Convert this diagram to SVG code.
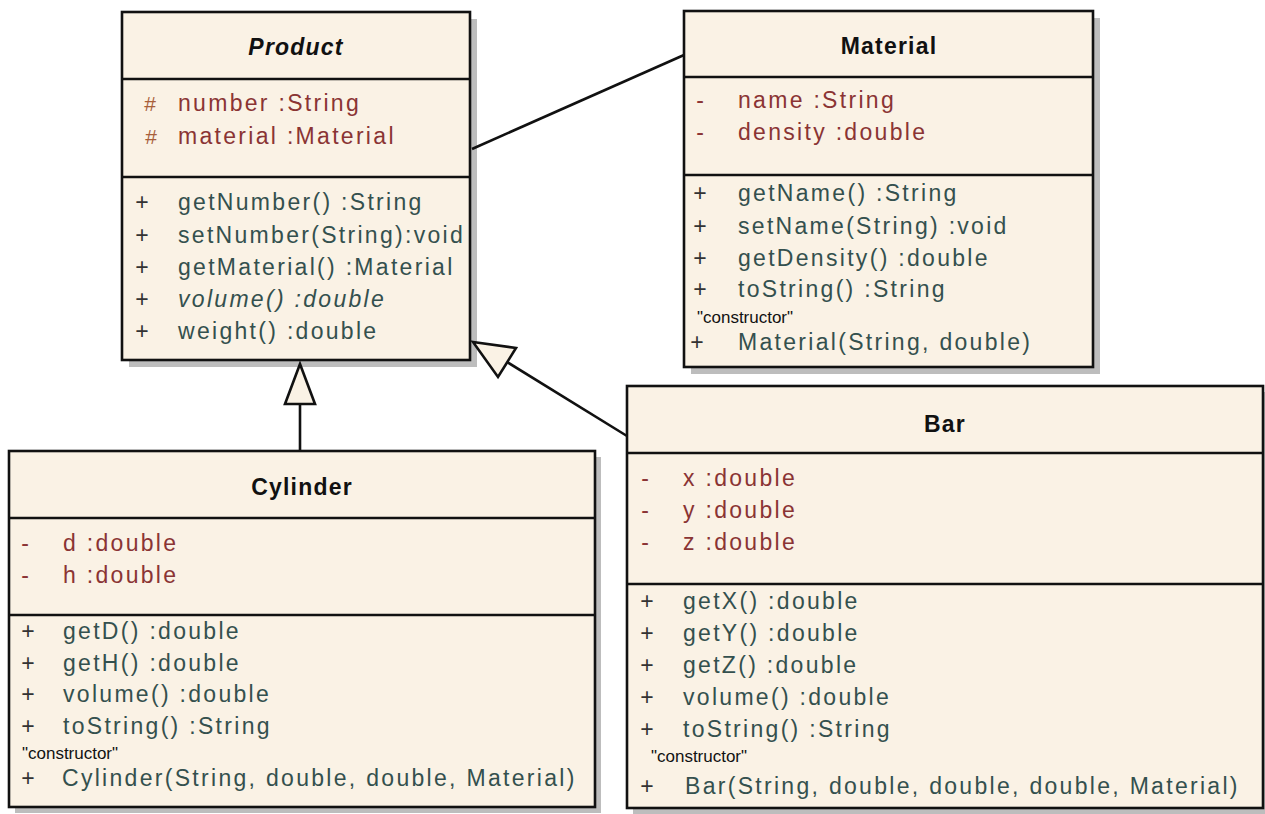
<svg xmlns="http://www.w3.org/2000/svg" width="1265" height="814" viewBox="0 0 1265 814">
<style>
.bg{fill:#ffffff}
.shadow{fill:#bdbdbd}
.box{fill:#faf2e5;stroke:#111;stroke-width:2.6}
.dv{stroke:#111;stroke-width:2.6}
text{font-family:"Liberation Sans",Arial,sans-serif;font-size:23px}
.title{font-weight:bold;fill:#111;text-anchor:middle;letter-spacing:1.2px}
.attr{fill:#8a3434;letter-spacing:2.3px}
.op{fill:#34504e;letter-spacing:2.3px}
.mk{text-anchor:middle;fill:#333}
.mkr{text-anchor:middle;fill:#8a3434}
.hash{text-anchor:middle;fill:#a8603a;font-size:21px}
.ctor{font-size:16px;fill:#111}
.con{stroke:#111;stroke-width:2.6;fill:none}
.tri{fill:#faf2e5;stroke:#111;stroke-width:2.6;stroke-linejoin:miter}
</style>
<rect class="bg" x="0" y="0" width="1265" height="814"/>

<g id="product">
<rect class="shadow" x="129" y="19" width="348" height="348"/>
<rect class="box" x="122" y="12" width="348" height="348"/>
<line class="dv" x1="122" y1="79" x2="470" y2="79"/>
<line class="dv" x1="122" y1="177" x2="470" y2="177"/>
<text class="title" x="296" y="55" font-style="italic">Product</text>
<text class="hash" x="150" y="111">#</text>
<text class="attr" x="178" y="111">number :String</text>
<text class="hash" x="151" y="144">#</text>
<text class="attr" x="178" y="144">material :Material</text>
<text class="mk" x="142" y="210">+</text>
<text class="op" x="178" y="210">getNumber() :String</text>
<text class="mk" x="142" y="243">+</text>
<text class="op" x="178" y="243">setNumber(String):void</text>
<text class="mk" x="142" y="275">+</text>
<text class="op" x="178" y="275">getMaterial() :Material</text>
<text class="mk" x="142" y="307">+</text>
<text class="op" x="178" y="307" font-style="italic">volume() :double</text>
<text class="mk" x="142" y="339">+</text>
<text class="op" x="178" y="339">weight() :double</text>
</g>

<g id="material">
<rect class="shadow" x="691" y="18" width="409" height="356"/>
<rect class="box" x="684" y="11" width="409" height="356"/>
<line class="dv" x1="684" y1="77" x2="1093" y2="77"/>
<line class="dv" x1="684" y1="175" x2="1093" y2="175"/>
<text class="title" x="889" y="54">Material</text>
<text class="mkr" x="700" y="108">-</text>
<text class="attr" x="738" y="108">name :String</text>
<text class="mkr" x="700" y="140">-</text>
<text class="attr" x="738" y="140">density :double</text>
<text class="mk" x="700" y="201">+</text>
<text class="op" x="738" y="201">getName() :String</text>
<text class="mk" x="700" y="234">+</text>
<text class="op" x="738" y="234">setName(String) :void</text>
<text class="mk" x="700" y="266">+</text>
<text class="op" x="738" y="266">getDensity() :double</text>
<text class="mk" x="700" y="297">+</text>
<text class="op" x="738" y="297">toString() :String</text>
<text class="ctor" x="697" y="323" textLength="96" lengthAdjust="spacingAndGlyphs">"constructor"</text>
<text class="mk" x="697" y="350">+</text>
<text class="op" x="738" y="350">Material(String, double)</text>
</g>

<g id="cylinder">
<rect class="shadow" x="15" y="457" width="586" height="356"/>
<rect class="box" x="9" y="451" width="586" height="356"/>
<line class="dv" x1="9" y1="518" x2="595" y2="518"/>
<line class="dv" x1="9" y1="615" x2="595" y2="615"/>
<text class="title" x="302" y="495">Cylinder</text>
<text class="mkr" x="25" y="551">-</text>
<text class="attr" x="63" y="551">d :double</text>
<text class="mkr" x="25" y="583">-</text>
<text class="attr" x="63" y="583">h :double</text>
<text class="mk" x="28" y="639">+</text>
<text class="op" x="63" y="639">getD() :double</text>
<text class="mk" x="28" y="671">+</text>
<text class="op" x="63" y="671">getH() :double</text>
<text class="mk" x="28" y="702">+</text>
<text class="op" x="63" y="702">volume() :double</text>
<text class="mk" x="28" y="734">+</text>
<text class="op" x="63" y="734">toString() :String</text>
<text class="ctor" x="22" y="759" textLength="96" lengthAdjust="spacingAndGlyphs">"constructor"</text>
<text class="mk" x="28" y="786">+</text>
<text class="op" x="62" y="786">Cylinder(String, double, double, Material)</text>
</g>

<g id="bar">
<rect class="shadow" x="633" y="392" width="636" height="422"/>
<rect class="box" x="627" y="386" width="636" height="422"/>
<line class="dv" x1="627" y1="453" x2="1263" y2="453"/>
<line class="dv" x1="627" y1="584" x2="1263" y2="584"/>
<text class="title" x="945" y="432">Bar</text>
<text class="mkr" x="645" y="486">-</text>
<text class="attr" x="683" y="486">x :double</text>
<text class="mkr" x="645" y="518">-</text>
<text class="attr" x="683" y="518">y :double</text>
<text class="mkr" x="645" y="550">-</text>
<text class="attr" x="683" y="550">z :double</text>
<text class="mk" x="647" y="609">+</text>
<text class="op" x="683" y="609">getX() :double</text>
<text class="mk" x="647" y="641">+</text>
<text class="op" x="683" y="641">getY() :double</text>
<text class="mk" x="647" y="673">+</text>
<text class="op" x="683" y="673">getZ() :double</text>
<text class="mk" x="647" y="705">+</text>
<text class="op" x="683" y="705">volume() :double</text>
<text class="mk" x="647" y="737">+</text>
<text class="op" x="683" y="737">toString() :String</text>
<text class="ctor" x="651" y="762" textLength="96" lengthAdjust="spacingAndGlyphs">"constructor"</text>
<text class="mk" x="647" y="794">+</text>
<text class="op" x="685" y="794">Bar(String, double, double, double, Material)</text>
</g>

<g id="connectors">
<line class="con" x1="472" y1="149" x2="684" y2="55"/>
<line class="con" x1="300" y1="451" x2="300" y2="404"/>
<polygon class="tri" points="300,364 285,404 315,404"/>
<line class="con" x1="507" y1="362" x2="627" y2="436"/>
<polygon class="tri" points="473,342 516,348 498,377"/>
</g>
</svg>
